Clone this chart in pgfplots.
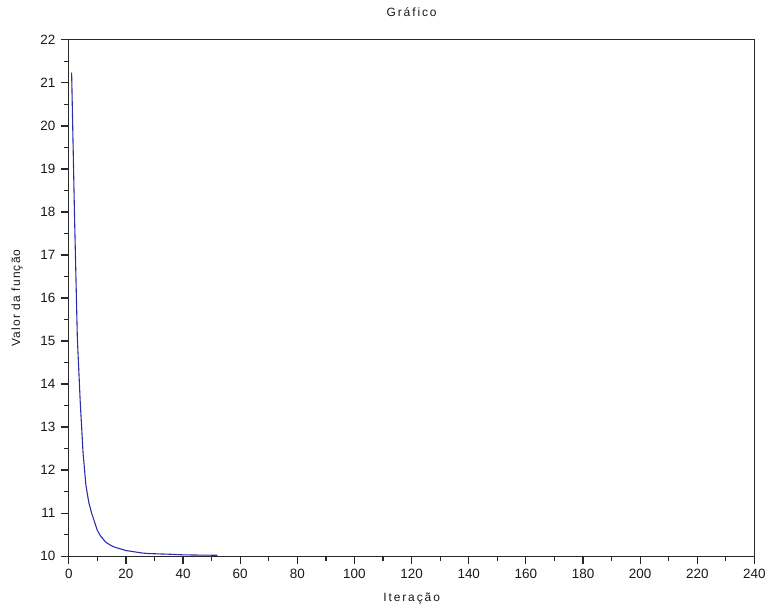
\documentclass[border=0pt]{standalone}
\usepackage{pgfplots}
\pgfplotsset{compat=1.18}
\usepackage{fontspec}
\setmainfont{Liberation Sans}
\newfontfamily\spacedfont[LetterSpace=16]{Liberation Sans}
\newfontfamily\yspacedfont[LetterSpace=10]{Liberation Sans}
\definecolor{curve}{RGB}{45,45,170}
\definecolor{axisgray}{RGB}{40,40,40}
\begin{document}
\begin{tikzpicture}
\begin{axis}[
  scale only axis,
  width=688pt, height=518pt,
  xmin=0, xmax=240, ymin=10, ymax=22,
  xtick={0,20,...,240},
  ytick={10,11,...,22},
  minor xtick={10,30,...,230},
  minor ytick={10.5,11.5,...,21.5},
  tick align=outside,
  major tick length=8pt,
  minor tick length=5pt,
  xtick pos=bottom, ytick pos=left,
  axis line style={line width=1.2pt, axisgray},
  every tick/.style={line width=1.2pt, axisgray},
  /pgf/number format/assume math mode=true,
  ticklabel style={font=\fontsize{13.5}{15}\selectfont, text=black!90},
  xticklabel style={yshift=-1pt},
  yticklabel style={xshift=-2pt},
  title={\spacedfont Gráfico},
  title style={font=\fontsize{12}{14}\selectfont, text=black!90, at={(axis description cs:0.5,1)}, anchor=base, yshift=17pt},
  xlabel={\spacedfont Iteração},
  xlabel style={font=\fontsize{12}{14}\selectfont, text=black!90, at={(axis description cs:0.5,0)}, anchor=base, yshift=-46pt},
  ylabel={\yspacedfont Valor da função},
  ylabel style={font=\fontsize{12}{14}\selectfont, text=black!90, at={(axis description cs:0,0.5)}, anchor=center, yshift=52pt},
  clip=false,
]
\addplot[color=curve, line width=1.1pt] coordinates {
(1,21.24) (2,17.95) (3,15.07) (4,13.6) (5,12.4) (6,11.65) (7,11.25)
(8,11.0) (9,10.8) (10,10.6) (11,10.48) (12,10.4) (13,10.32) (14,10.28)
(15,10.24) (16,10.21) (17,10.19) (18,10.17) (19,10.15) (20,10.13)
(22,10.11) (24,10.09) (26,10.07) (28,10.06) (30,10.055) (35,10.045)
(40,10.03) (45,10.025) (52,10.02)
};
\end{axis}
\path[use as bounding box] (-69pt,-51pt) rectangle (700pt,558pt);
\end{tikzpicture}
\end{document}
